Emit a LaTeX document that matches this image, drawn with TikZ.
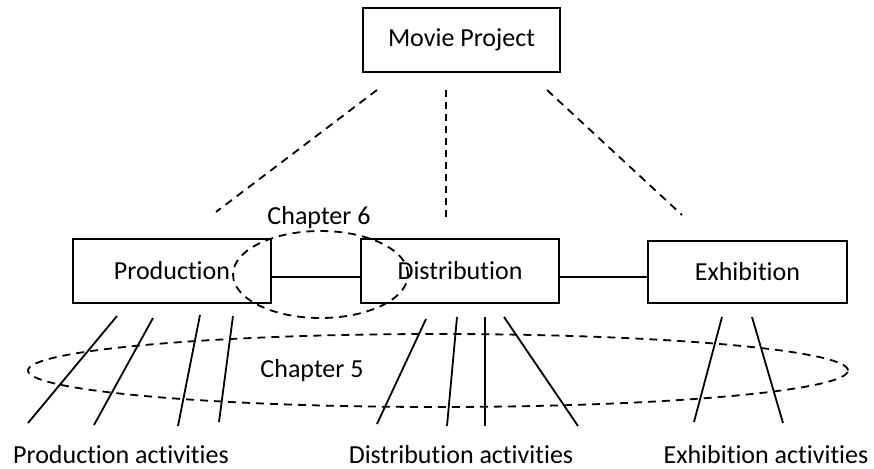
\documentclass[tikz,border=0pt]{standalone}
\usepackage{fontspec}
\setmainfont{Carlito}[Ligatures=NoCommon]
\usetikzlibrary{shapes.geometric}
\begin{document}
\begin{tikzpicture}[x=1pt,y=-1pt,
  every node/.style={font=\fontsize{26}{31}\selectfont, inner sep=0pt},
  box/.style={draw, line width=2pt, minimum width=198pt, minimum height=64pt},
  link/.style={line width=1.6pt},
  dashlink/.style={line width=1.8pt, dash pattern=on 8pt off 6pt},
  group/.style={draw, line width=1.8pt, dash pattern=on 8pt off 6pt},
  act/.style={line width=1.8pt}]
\useasboundingbox (0,0) rectangle (874,468);

% top-level project and its three stages
\node[box, minimum width=197pt] (movie) at (461.5,40) {Movie Project};
\node[box] (prod) at (172,271) {Production};
\node[box] (dist) at (460,271) {Distribution};
\node[box, minimum width=199pt, minimum height=62pt] (exhib) at (747.5,272) {Exhibition};

% links between neighbouring stages
\draw[link] ([yshift=-6pt]prod.east) -- ([yshift=-6pt]dist.west);
\draw[link] ([yshift=-6pt]dist.east) -- ([yshift=-5pt]exhib.west);

% dashed breakdown from the project to the stages
\coordinate (m1) at (377,90);  \coordinate (p1) at (216,212);
\coordinate (m2) at (446,90);  \coordinate (d1) at (446,217);
\coordinate (m3) at (547,90);  \coordinate (e1) at (682,215);
\draw[dashlink] (m1) -- (p1);
\draw[dashlink, dash pattern=on 7pt off 5pt] (m2) -- (d1);
\draw[dashlink] (m3) -- (e1);

% chapter groupings
\node[group, ellipse, minimum width=175pt, minimum height=87pt] (ch6) at (320.5,274.5) {};
\node (ch6label) at (319,218) {Chapter 6};
\node[group, ellipse, minimum width=820pt, minimum height=73pt] (ch5) at (438,370.5) {};
\node (ch5label) at (312,371) {Chapter 5};

% activity strands under each stage
\coordinate (pa1) at (117,316); \coordinate (pb1) at (28,423);
\coordinate (pa2) at (153,318); \coordinate (pb2) at (94,425);
\coordinate (pa3) at (200,315); \coordinate (pb3) at (178,426);
\coordinate (pa4) at (233,316); \coordinate (pb4) at (219,422);
\foreach \i in {1,...,4} \draw[act] (pa\i) -- (pb\i);

\coordinate (da1) at (426,319); \coordinate (db1) at (377,424);
\coordinate (da2) at (457,317); \coordinate (db2) at (447,426);
\coordinate (da3) at (485,317); \coordinate (db3) at (485,426);
\coordinate (da4) at (504,317); \coordinate (db4) at (578,426);
\foreach \i in {1,...,4} \draw[act] (da\i) -- (db\i);

\coordinate (ea1) at (722,317); \coordinate (eb1) at (694,422);
\coordinate (ea2) at (752,317); \coordinate (eb2) at (783,423);
\foreach \i in {1,2} \draw[act] (ea\i) -- (eb\i);

% activity labels
\node[anchor=base] (prodact) at (121,463) {Production activities};
\node[anchor=base] (distact) at (461,463) {Distribution activities};
\node[anchor=base] (exhibact) at (766,463) {Exhibition activities};
\end{tikzpicture}
\end{document}
